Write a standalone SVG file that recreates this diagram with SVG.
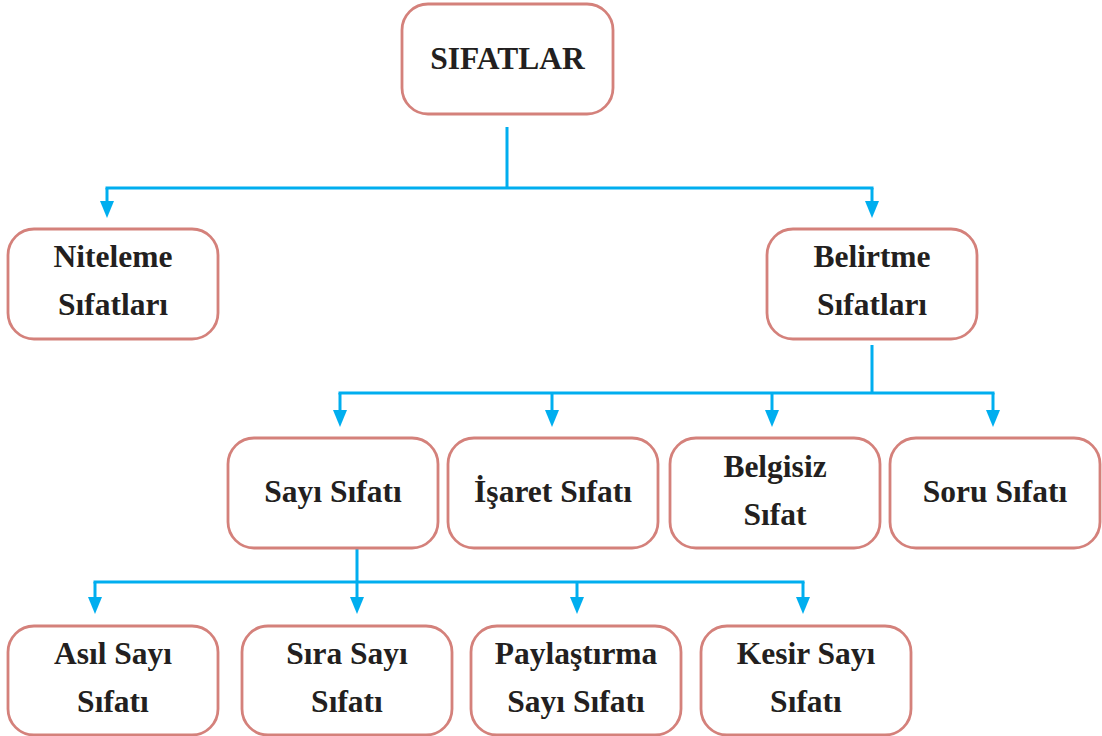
<svg xmlns="http://www.w3.org/2000/svg" width="1102" height="736" viewBox="0 0 1102 736">
<style>
.box{fill:#fff;stroke:#d4817b;stroke-width:2.8}
.t{font-family:"Liberation Serif","Times New Roman",serif;font-weight:bold;font-size:31.5px;fill:#231f20;text-anchor:middle}
.c{fill:none;stroke:#00aeef;stroke-width:3}
.a{fill:none;stroke:#00aeef;stroke-width:3;marker-end:url(#ah)}
</style>
<defs>
<marker id="ah" markerUnits="userSpaceOnUse" markerWidth="18" markerHeight="14" refX="7" refY="7" orient="auto" viewBox="0 0 18 14">
<path d="M0,0 L17,7 L0,14 Z" fill="#00aeef"/>
</marker>
</defs>
<rect width="1102" height="736" fill="#fff"/>
<g id="connectors">
<path class="c" d="M507,127 V188 M105.5,188 H873.5"/>
<path class="a" d="M107,188 V208"/>
<path class="a" d="M872,188 V208"/>
<path class="c" d="M872,345 V393 M338.5,393 H994.5"/>
<path class="a" d="M340,393 V417"/>
<path class="a" d="M552,393 V417"/>
<path class="a" d="M772,393 V417"/>
<path class="a" d="M993,393 V417"/>
<path class="c" d="M357,548 V582 M93.5,582 H804.5"/>
<path class="a" d="M95,582 V604"/>
<path class="a" d="M357,582 V604"/>
<path class="a" d="M577,582 V604"/>
<path class="a" d="M803,582 V604"/>
</g>
<g id="sifatlar"><rect class="box" x="402" y="4" width="211" height="110" rx="26"/><text class="t" x="507.5" y="69">SIFATLAR</text></g>
<g id="niteleme"><rect class="box" x="8" y="229" width="210" height="110" rx="26"/><text class="t" x="113" y="267">Niteleme</text><text class="t" x="113" y="315">Sıfatları</text></g>
<g id="belirtme"><rect class="box" x="767" y="229" width="210" height="110" rx="26"/><text class="t" x="872" y="267">Belirtme</text><text class="t" x="872" y="315">Sıfatları</text></g>
<g id="sayi"><rect class="box" x="228" y="438" width="210" height="110" rx="26"/><text class="t" x="333" y="502">Sayı Sıfatı</text></g>
<g id="isaret"><rect class="box" x="448" y="438" width="210" height="110" rx="26"/><text class="t" x="553" y="502">İşaret Sıfatı</text></g>
<g id="belgisiz"><rect class="box" x="670" y="438" width="210" height="110" rx="26"/><text class="t" x="775" y="477">Belgisiz</text><text class="t" x="775" y="525">Sıfat</text></g>
<g id="soru"><rect class="box" x="890" y="438" width="210" height="110" rx="26"/><text class="t" x="995" y="502">Soru Sıfatı</text></g>
<g id="asil"><rect class="box" x="8" y="626" width="210" height="109" rx="26"/><text class="t" x="113" y="664">Asıl Sayı</text><text class="t" x="113" y="712">Sıfatı</text></g>
<g id="sira"><rect class="box" x="242" y="626" width="210" height="109" rx="26"/><text class="t" x="347" y="664">Sıra Sayı</text><text class="t" x="347" y="712">Sıfatı</text></g>
<g id="paylastirma"><rect class="box" x="471" y="626" width="210" height="109" rx="26"/><text class="t" x="576" y="664">Paylaştırma</text><text class="t" x="576" y="712">Sayı Sıfatı</text></g>
<g id="kesir"><rect class="box" x="701" y="626" width="210" height="109" rx="26"/><text class="t" x="806" y="664">Kesir Sayı</text><text class="t" x="806" y="712">Sıfatı</text></g>
</svg>
